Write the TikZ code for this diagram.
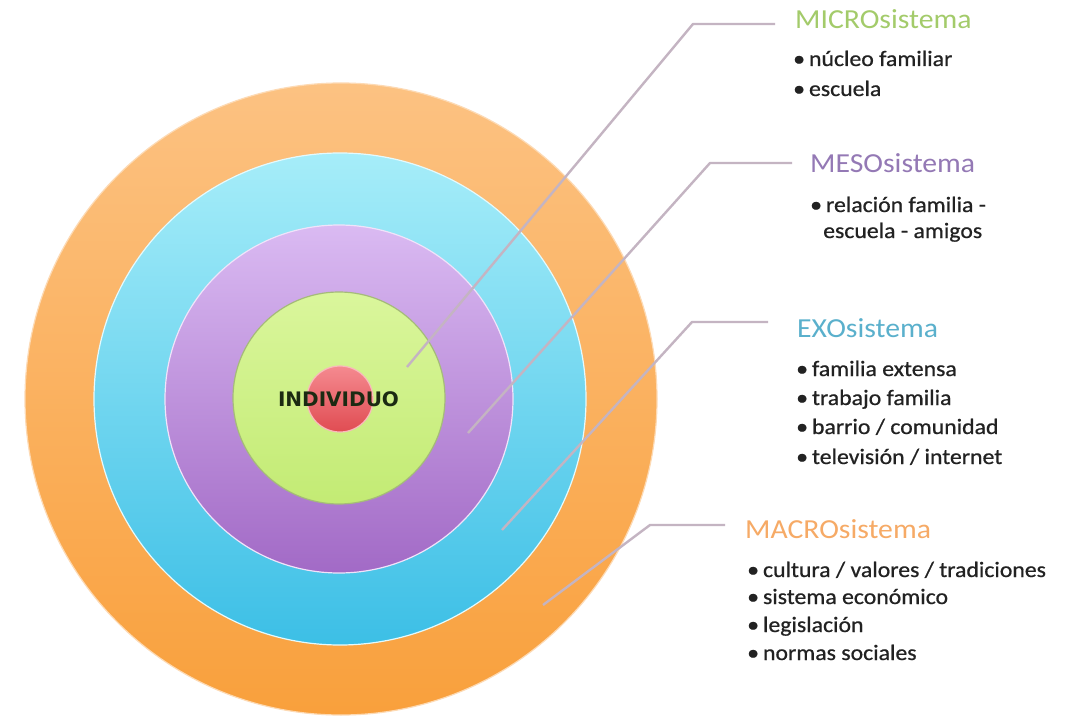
\documentclass[tikz,border=0pt]{standalone}
\usepackage{fontspec}
\setmainfont{Carlito}[FakeStretch=1.08]
\newfontfamily\itemfont{Carlito}[FakeStretch=1.08, FakeBold=0.7]
\newfontfamily\dvb{DejaVu Sans}
\definecolor{orTop}{HTML}{FCC282}
\definecolor{orBot}{HTML}{F9A03C}
\definecolor{cyTop}{HTML}{A6EDF9}
\definecolor{cyBot}{HTML}{3CBFE6}
\definecolor{puTop}{HTML}{DABAF2}
\definecolor{puBot}{HTML}{A26AC6}
\definecolor{grTop}{HTML}{DAF69C}
\definecolor{grBot}{HTML}{C3EB74}
\definecolor{reTop}{HTML}{F58A90}
\definecolor{reBot}{HTML}{E04C52}
\definecolor{leaderc}{HTML}{C4B4C2}
\definecolor{microc}{HTML}{A3CB6A}
\definecolor{mesoc}{HTML}{9479B5}
\definecolor{exoc}{HTML}{5AB0CC}
\definecolor{macroc}{HTML}{F6AA66}
\definecolor{itemc}{HTML}{222222}
\definecolor{indc}{HTML}{1B2A12}
\tikzset{
  ring/.style={circle, inner sep=0pt, outer sep=0pt, line width=1.2pt},
  leader/.style={draw=leaderc, line width=2.4pt, line join=round},
  ttl/.style={anchor=base west, inner sep=0pt, font=\fontsize{27.5}{30}\selectfont},
  itm/.style={anchor=base west, inner sep=0pt, text=itemc, font=\itemfont\fontsize{22}{26}\selectfont},
}
\newcommand{\bl}{\textbullet\hspace{4pt}}
\begin{document}
\begin{tikzpicture}[x=1pt,y=-1pt]
\useasboundingbox[fill=white] (0,0) rectangle (1076,722);
% rings
\node[ring, minimum size=632pt, top color=orTop, bottom color=orBot, draw=orTop!60!white] (macroC) at (341,399) {};
\node[ring, minimum size=492pt, top color=cyTop, bottom color=cyBot, draw=white!70!cyTop] (exoC) at (340,399) {};
\node[ring, minimum size=348pt, top color=puTop, bottom color=puBot, draw=white!60!puTop] (mesoC) at (339,399) {};
\node[ring, minimum size=212pt, top color=grTop, bottom color=grBot, draw=gray!45!grBot] (microC) at (339,398) {};
\node[ring, minimum size=66pt, top color=reTop, bottom color=reBot, draw=reTop!60!white] (indC) at (340,399) {};
\node[inner sep=0pt, text=indc, font=\dvb\bfseries\fontsize{20}{22}\selectfont] (ind) at (338.5,399.5) {INDIVIDUO};
% leader points
\coordinate (p1) at (407,367); \coordinate (k1) at (693,24);  \coordinate (e1) at (775,24);
\coordinate (p2) at (468,433); \coordinate (k2) at (710,163); \coordinate (e2) at (792,163);
\coordinate (p3) at (502,530); \coordinate (k3) at (692,322); \coordinate (e3) at (768,322);
\coordinate (p4) at (543,605); \coordinate (k4) at (650,525); \coordinate (e4) at (725,525);
\draw[leader] (p1) -- (k1) -- (e1);
\draw[leader] (p2) -- (k2) -- (e2);
\draw[leader] (p3) -- (k3) -- (e3);
\draw[leader] (p4) -- (k4) -- (e4);
% MICRO
\node[ttl, text=microc] (microT) at (795,29) {MICROsistema};
\node[itm] (mi1) at (793,66) {\bl núcleo familiar};
\node[itm] (mi2) at (793,96) {\bl escuela};
% MESO
\node[ttl, text=mesoc] (mesoT) at (810,173) {MESOsistema};
\node[itm] (me1) at (810,212) {\bl relación familia -};
\node[itm] (me2) at (823,238) {escuela - amigos};
% EXO
\node[ttl, text=exoc] (exoT) at (797,337) {EXOsistema};
\node[itm] (ex1) at (796,376) {\bl familia extensa};
\node[itm] (ex2) at (796,405) {\bl trabajo familia};
\node[itm] (ex3) at (796,434) {\bl barrio / comunidad};
\node[itm] (ex4) at (796,464) {\bl televisión / internet};
% MACRO
\node[ttl, text=macroc] (macroT) at (745,538) {MACROsistema};
\node[itm] (ma1) at (747,577) {\bl cultura / valores / tradiciones};
\node[itm] (ma2) at (747,604) {\bl sistema económico};
\node[itm] (ma3) at (747,632) {\bl legislación};
\node[itm] (ma4) at (747,660) {\bl normas sociales};
\end{tikzpicture}
\end{document}
